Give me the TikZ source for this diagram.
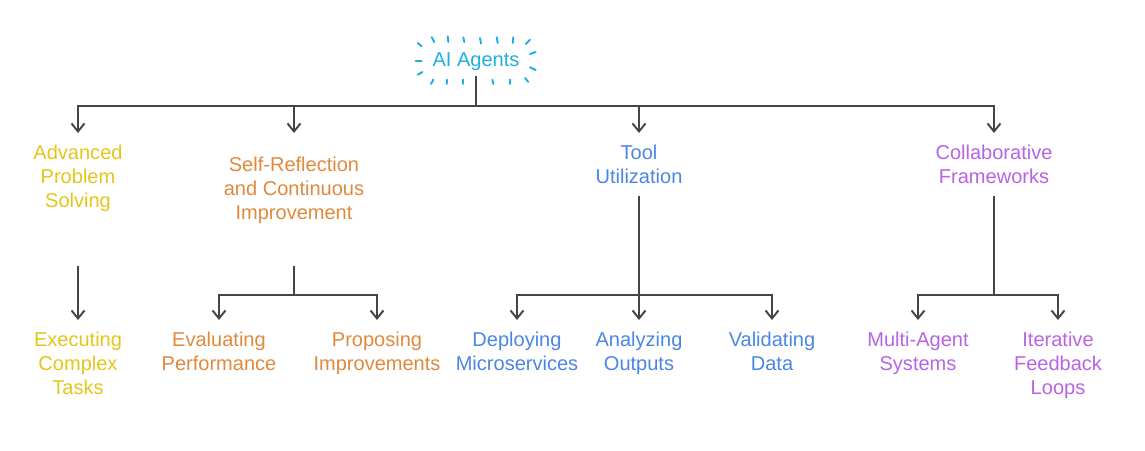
\documentclass[tikz,border=0pt]{standalone}
\usepackage{fontspec}
\setmainfont{Liberation Sans}
\usetikzlibrary{positioning,calc,arrows.meta}

\definecolor{agentcyan}{HTML}{1FAEE3}
\definecolor{solveyellow}{HTML}{E3C619}
\definecolor{reflectorange}{HTML}{E0893D}
\definecolor{toolblue}{HTML}{4A86E4}
\definecolor{collabpurple}{HTML}{B763E4}
\definecolor{linegray}{HTML}{454545}

\tikzset{
  rootword/.style={inner sep=0pt, outer ysep=1mm,
    font=\fontsize{11.4}{13.6}\selectfont},
  topic/.style={rootword, align=center, anchor=north, outer ysep=2.4mm,
    execute at begin node={\rule{0pt}{3.2mm}}},
  link/.style={draw=linegray, line width=1.1pt},
  pointer/.style={link, -{Straight Barb[length=1.6mm,width=2.6mm]}},
  spark/.style={draw=agentcyan, line width=1.1pt, line cap=round},
}

\begin{document}
\begin{tikzpicture}[x=0.02cm, y=-0.02cm]
    \useasboundingbox (0,0) rectangle (1145,450);

    % Root with its burst of dashes
    \node[rootword, text=agentcyan] (agents) at (476,62) {AI Agents};
    \foreach \ax/\ay/\bx/\by in {417.7/43/421.7/46.3, 431.7/37.3/434.3/42,
        447.7/36.3/448.3/42, 463.3/37.3/464.3/42, 480/38/481/43.5,
        496.7/37.3/497.7/43, 513.3/37.3/512.7/43, 530/39.7/525.7/44,
        415.7/60.7/421.7/60.7, 530/54/535.7/52, 530/67.3/535.7/70,
        417.7/74.7/422.3/72, 431/84/433.3/79.7, 446.7/84/447/79.7,
        463.3/84/463.3/79.7, 493.3/84/492.3/79.7, 510/84/510/79.7,
        528.3/82/525/78}
        \draw[spark] (\ax,\ay) -- (\bx,\by);

    % First level
    \node[topic, text=solveyellow] (solving) at (78,133) {Advanced\\Problem\\Solving};
    \node[topic, text=reflectorange, outer ysep=4.8mm] (reflect) at (294,133) {Self-Reflection\\and Continuous\\Improvement};
    \node[topic, text=toolblue] (tools) at (639,133) {Tool\\Utilization};
    \node[topic, text=collabpurple] (collab) at (994,133) {Collaborative\\Frameworks};

    % Second level
    \node[topic, text=solveyellow] (executing) at (78,320) {Executing\\Complex\\Tasks};
    \node[topic, text=reflectorange] (evaluating) at (219,320) {Evaluating\\Performance};
    \node[topic, text=reflectorange] (proposing) at (377,320) {Proposing\\Improvements};
    \node[topic, text=toolblue] (deploying) at (517,320) {Deploying\\Microservices};
    \node[topic, text=toolblue] (analyzing) at (639,320) {Analyzing\\Outputs};
    \node[topic, text=toolblue] (validating) at (772,320) {Validating\\Data};
    \node[topic, text=collabpurple] (multiagent) at (918,320) {Multi-Agent\\Systems};
    \node[topic, text=collabpurple] (iterative) at (1058,320) {Iterative\\Feedback\\Loops};

    % Junctions
    \coordinate (rootbus) at (476,106);
    \coordinate (solvefoot) at (78,266);
    \coordinate (reflectfoot) at (294,266);
    \coordinate (reflectbus) at (294,295);
    \coordinate (toolbus) at (639,295);
    \coordinate (collabbus) at (994,295);

    % Connectors
    \foreach \n in {solving,reflect,tools,collab}
        \draw[pointer] (agents.south) -- (rootbus) -| (\n.north);
    \draw[pointer] (solvefoot) -- (executing.north);
    \foreach \n in {evaluating,proposing}
        \draw[pointer] (reflectfoot) -- (reflectbus) -| (\n.north);
    \foreach \n in {deploying,analyzing,validating}
        \draw[pointer] (tools.south) -- (toolbus) -| (\n.north);
    \foreach \n in {multiagent,iterative}
        \draw[pointer] (collab.south) -- (collabbus) -| (\n.north);
\end{tikzpicture}
\end{document}
